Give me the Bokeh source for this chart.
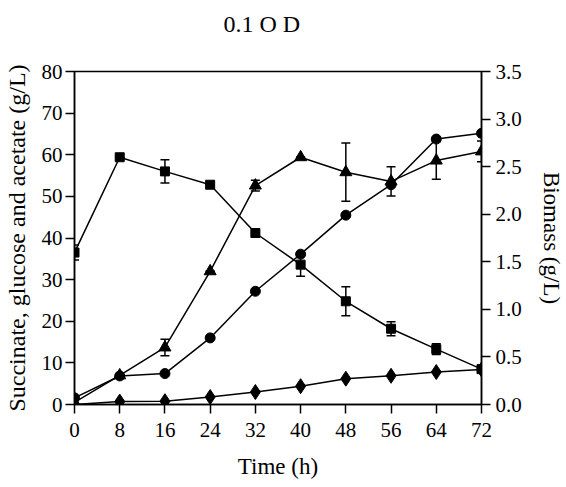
from bokeh.plotting import figure
from bokeh.models import (Range1d, LinearAxis, FixedTicker, NumeralTickFormatter,
                          Whisker, TeeHead, ColumnDataSource, Title)
from bokeh.embed import file_html
from bokeh.resources import INLINE

# ---- data ----
time = [0, 8, 16, 24, 32, 40, 48, 56, 64, 72]
glucose = [36.5, 59.4, 56.0, 52.8, 41.2, 33.6, 24.8, 18.2, 13.3, 8.5]
glucose_err = [1.8, 0, 2.8, 0, 0, 2.8, 3.5, 1.7, 1.3, 0]
succinate = [0.5, 7.0, 13.7, 32.0, 52.6, 59.4, 55.8, 53.6, 58.6, 60.8]
succinate_err = [0, 0, 2.0, 0, 1.3, 0, 7.0, 3.5, 4.5, 2.5]
acetate = [0.0, 0.7, 0.8, 1.8, 3.0, 4.4, 6.2, 6.9, 7.8, 8.4]
biomass = [0.07, 0.30, 0.325, 0.70, 1.19, 1.58, 1.99, 2.31, 2.79, 2.85]

x_ticks = [0, 8, 16, 24, 32, 40, 48, 56, 64, 72]
left_ticks = [0, 10, 20, 30, 40, 50, 60, 70, 80]
right_ticks = [0.0, 0.5, 1.0, 1.5, 2.0, 2.5, 3.0, 3.5]

SERIF = "Liberation Serif"

p = figure(width=566, height=487, output_backend="svg", toolbar_location=None,
           x_range=Range1d(0, 72), y_range=Range1d(0, 80),
           min_border_left=74, min_border_right=82, min_border_top=71,
           min_border_bottom=83)
p.extra_y_ranges = {"bio": Range1d(0, 3.5)}
p.grid.visible = False
p.background_fill_color = "white"
p.border_fill_color = "white"
p.outline_line_color = "black"
p.outline_line_width = 1.5

# spacer between frame and title, then the title itself (further out)
spacer = Title(text=" ", text_font=SERIF, text_font_size="1px", standoff=32,
               text_color="white")
p.add_layout(spacer, "above")
t = Title(text="0.1 O D", text_font=SERIF, text_font_size="24px",
          text_font_style="normal", text_color="black",
          align="left", offset=149, standoff=0)
p.add_layout(t, "above")

def style_axis(ax):
    ax.axis_line_color = "black"
    ax.axis_line_width = 1.5
    ax.major_tick_line_color = "black"
    ax.major_tick_line_width = 1.5
    ax.major_tick_out = 9
    ax.major_tick_in = 0
    ax.minor_tick_line_color = None
    ax.major_label_text_font = SERIF
    ax.major_label_text_font_size = "21px"
    ax.major_label_text_font_style = "normal"
    ax.major_label_text_color = "black"
    ax.axis_label_text_font = SERIF
    ax.axis_label_text_font_size = "23px"
    ax.axis_label_text_font_style = "normal"
    ax.axis_label_text_color = "black"

xa = p.xaxis[0]
xa.ticker = FixedTicker(ticks=x_ticks)
xa.axis_label = "Time (h)"
style_axis(xa)
xa.major_label_standoff = 9
xa.axis_label_standoff = 14

ya = p.yaxis[0]
ya.ticker = FixedTicker(ticks=left_ticks)
ya.axis_label = "Succinate, glucose and acetate (g/L)"
style_axis(ya)
ya.axis_label_text_font_size = "24px"
ya.major_label_standoff = 3
ya.axis_label_standoff = 9

ra = LinearAxis(y_range_name="bio", axis_label="Biomass (g/L)")
ra.ticker = FixedTicker(ticks=right_ticks)
ra.formatter = NumeralTickFormatter(format="0.0")
style_axis(ra)
ra.major_label_standoff = 5
ra.axis_label_standoff = 14
p.add_layout(ra, "right")

# ---- sources ----
g_src = ColumnDataSource(dict(x=time, y=glucose,
                              lo=[v - e for v, e in zip(glucose, glucose_err)],
                              hi=[v + e for v, e in zip(glucose, glucose_err)]))
s_src = ColumnDataSource(dict(x=time, y=succinate,
                              lo=[v - e for v, e in zip(succinate, succinate_err)],
                              hi=[v + e for v, e in zip(succinate, succinate_err)]))
a_src = ColumnDataSource(dict(x=time, y=acetate))
b_src = ColumnDataSource(dict(x=time, y=biomass))

LW = 1.5
p.line("x", "y", source=g_src, line_color="black", line_width=LW)
p.line("x", "y", source=s_src, line_color="black", line_width=LW)
p.line("x", "y", source=a_src, line_color="black", line_width=LW)
p.line("x", "y", source=b_src, line_color="black", line_width=LW, y_range_name="bio")

for src in (g_src, s_src):
    w = Whisker(source=src, base="x", lower="lo", upper="hi",
                line_color="black", line_width=LW,
                upper_head=TeeHead(size=9, line_color="black", line_width=LW),
                lower_head=TeeHead(size=9, line_color="black", line_width=LW))
    p.add_layout(w)

p.scatter("x", "y", source=g_src, marker="square", size=9, color="black")
p.scatter("x", "y", source=s_src, marker="triangle", size=12, color="black")
p.scatter("x", "y", source=a_src, marker="diamond", size=15, color="black")
p.scatter("x", "y", source=b_src, marker="circle", size=10, color="black", y_range_name="bio")

open("out.html", "w").write(file_html(p, INLINE))
